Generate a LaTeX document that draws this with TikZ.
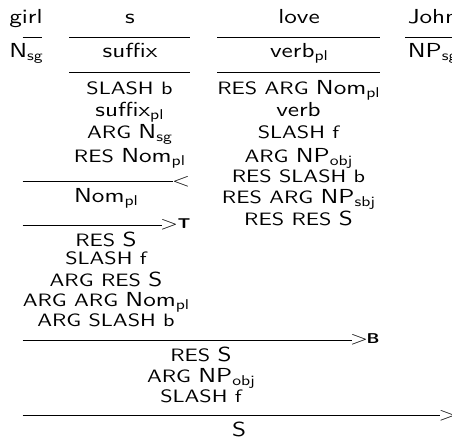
\documentclass[tikz,border=0pt]{standalone}
\usepackage{fix-cm}
\usepackage{fontspec}
\setsansfont{lmsans10-regular.otf}[BoldFont=lmsans10-bold.otf]
\newcommand\nsz{\fontsize{20.3}{20.3}\selectfont}
\newcommand\ssz{\fontsize{17.9}{17.9}\selectfont}
\newcommand\sbsc[1]{\raisebox{-3pt}{\fontsize{14.2}{14.2}\selectfont #1}}
\newcommand\ft[1]{{\ssz #1}}
\tikzset{
  lbl/.style={anchor=base, inner sep=0pt, outer sep=0pt, font=\sffamily\nsz, transform shape},
  rulel/.style={line width=0.6pt},
  rsym/.style={anchor=center, inner sep=0pt, outer sep=0pt, font=\fontsize{19}{19}\selectfont, transform shape},
  rname/.style={anchor=base, inner sep=0pt, outer sep=0pt, font=\sffamily\bfseries\fontsize{14.2}{14.2}\selectfont, transform shape}
}
\begin{document}
\begin{tikzpicture}[x=0.80645pt, y=-1pt, xscale=1.24]
\useasboundingbox (0,0) rectangle (452,441);
% words
\node[lbl] (girl) at (26,24) {girl};
\node[lbl] (s) at (130,24) {s};
\node[lbl] (love) at (299,24) {love};
\node[lbl] (john) at (433,24) {John};
\draw[rulel] (22.7,37.3) -- (42.3,37.3);
\draw[rulel] (69,37.3) -- (190,37.3);
\draw[rulel] (217,37.3) -- (380,37.3);
\draw[rulel] (405,37.3) -- (460,37.3);
% lexical categories
\node[lbl] (nsg) at (26,58) {N\sbsc{sg}};
\node[lbl] (suffix) at (130,58) {suffix};
\node[lbl] (verbpl) at (299,58) {verb\sbsc{pl}};
\node[lbl] (npsg) at (432.6,58) {NP\sbsc{sg}};
\draw[rulel] (69,72.7) -- (190,72.7);
\draw[rulel] (217,72.7) -- (380,72.7);
% s structure
\node[lbl] (s1) at (129.5,94.5) {\ft{SLASH b}};
\node[lbl] (s2) at (129.5,117) {suffix\sbsc{pl}};
\node[lbl] (s3) at (129.5,139) {\ft{ARG }N\sbsc{sg}};
\node[lbl] (s4) at (129.5,162.5) {\ft{RES }Nom\sbsc{pl}};
% love structure
\node[lbl] (l1) at (298.5,94.5) {\ft{RES ARG }Nom\sbsc{pl}};
\node[lbl] (l2) at (298.5,117) {verb};
\node[lbl] (l3) at (298.5,139) {\ft{SLASH f}};
\node[lbl] (l4) at (298.5,162.5) {\ft{ARG }NP\sbsc{obj}};
\node[lbl] (l5) at (298.5,182.5) {\ft{RES SLASH b}};
\node[lbl] (l6) at (298.5,203.5) {\ft{RES ARG }NP\sbsc{sbj}};
\node[lbl] (l7) at (298.5,226) {\ft{RES RES }S};
% backward application
\draw[rulel] (22.7,181.5) -- (173.3,181.5);
\node[rsym] (lt) at (181,181.5) {$<$};
\node[lbl] (nompl) at (106,203) {Nom\sbsc{pl}};
% type raising
\draw[rulel] (22.7,225) -- (161.7,225);
\node[rsym] (gtT) at (169,225) {$>$};
\node[rname] (T) at (184,228.3) {T};
\node[lbl] (t1) at (106,246.7) {\ft{RES }S};
\node[lbl] (t2) at (106,265) {\ft{SLASH f}};
\node[lbl] (t3) at (106,286.7) {\ft{ARG RES }S};
\node[lbl] (t4) at (106,306.7) {\ft{ARG ARG }Nom\sbsc{pl}};
\node[lbl] (t5) at (106,326.7) {\ft{ARG SLASH b}};
% composition
\draw[rulel] (22.7,340) -- (351.7,340);
\node[rsym] (gtB) at (359,339.5) {$>$};
\node[rname] (B) at (373,343.3) {B};
\node[lbl] (b1) at (201,361.7) {\ft{RES }S};
\node[lbl] (b2) at (201,383) {\ft{ARG }NP\sbsc{obj}};
\node[lbl] (b3) at (201,403) {\ft{SLASH f}};
% forward application
\draw[rulel] (22.7,415.7) -- (440,415.7);
\node[rsym] (gt) at (447.5,415.7) {$>$};
\node[lbl] (S) at (239,436.7) {S};
\end{tikzpicture}
\end{document}
